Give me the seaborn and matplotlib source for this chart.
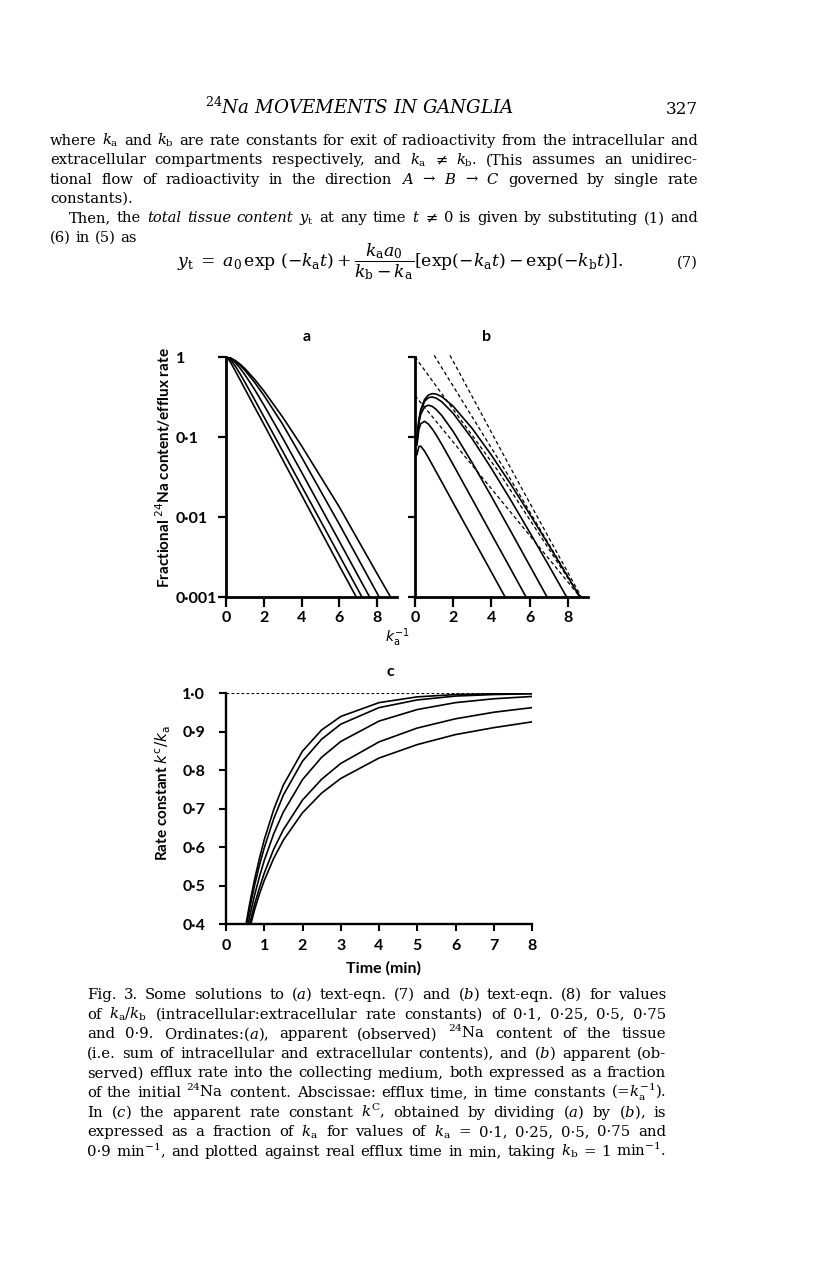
import matplotlib
matplotlib.use("Agg")
import matplotlib.pyplot as plt
import seaborn as sns
import pandas as pd
from matplotlib.ticker import NullLocator

# ---------------- data ----------------
ratios = ["0.1", "0.25", "0.5", "0.75", "0.9"]

# panel a : fractional 24Na content vs time constants
tau_a = [0, 0.1, 0.25, 0.5, 0.75, 1, 1.5, 2, 3, 4, 6, 8, 9]
content_01 = [1, 0.962, 0.85, 0.665, 0.515, 0.40, 0.24, 0.145, 0.052, 0.0188, 0.00245, 0.00033, 0.00012]
content_025 = [1, 0.983, 0.916, 0.764, 0.613, 0.484, 0.297, 0.180, 0.0664, 0.0244, 0.0033, 0.000447, 0.000165]
content_05 = [1, 0.991, 0.951, 0.845, 0.722, 0.600, 0.397, 0.252, 0.0971, 0.0363, 0.00495, 0.00067, 0.000247]
content_075 = [1, 0.994, 0.966, 0.886, 0.786, 0.681, 0.487, 0.333, 0.144, 0.056, 0.0081, 0.00111, 0.00041]
content_09 = [1, 0.995, 0.970, 0.901, 0.812, 0.716, 0.531, 0.378, 0.177, 0.0775, 0.0133, 0.00195, 0.00076]

# panel b : fractional efflux rate vs time constants
tau_b = [0.1, 0.2, 0.3, 0.5, 0.7, 0.9, 1.1, 1.4, 2, 3, 4, 5, 6, 7, 8, 9]
efflux_01 = [0.0597, 0.0759, 0.0768, 0.0666, 0.0551, 0.0452, 0.0370, 0.0274, 0.0150, 0.00553, 0.00204, 0.00075, 0.000275, 0.000101, 0.000037, 0.000014]
efflux_025 = [0.0782, 0.1231, 0.1465, 0.1571, 0.1453, 0.1264, 0.1069, 0.0810, 0.0450, 0.0166, 0.0061, 0.00225, 0.000826, 0.000304, 0.000112, 0.000041]
efflux_05 = [0.0861, 0.1484, 0.1920, 0.2386, 0.2500, 0.2413, 0.2221, 0.1858, 0.1170, 0.0473, 0.0180, 0.00669, 0.00247, 0.000912, 0.000335, 0.000123]
efflux_075 = [0.0889, 0.1584, 0.2115, 0.2793, 0.3102, 0.3162, 0.3066, 0.2760, 0.1974, 0.0945, 0.0404, 0.0164, 0.00643, 0.00247, 0.000936, 0.000352]
efflux_09 = [0.0900, 0.162, 0.2187, 0.2943, 0.3348, 0.3483, 0.3447, 0.3195, 0.2421, 0.1271, 0.0592, 0.0259, 0.01085, 0.00444, 0.00178, 0.000702]

# panel b : dashed reference lines (points along each line)
dash_b_x = [[0, 4.3, 8.64], [1.0, 4.7, 8.64], [1.83, 5.05, 8.7], [0, 8.64]]
dash_b_y = [[1.0, 0.039, 0.001], [1.05, 0.039, 0.001], [1.05, 0.039, 0.001], [0.33, 0.001]]

# panel c : k^c / k_a vs real time (min)
time_c = [0.5, 0.625, 0.75, 0.875, 1, 1.25, 1.5, 2, 2.5, 3, 4, 5, 6, 7, 8]
rate_01 = [0.387, 0.456, 0.517, 0.571, 0.619, 0.698, 0.761, 0.849, 0.904, 0.939, 0.975, 0.990, 0.996, 0.998, 0.999]
rate_025 = [0.378, 0.443, 0.502, 0.553, 0.598, 0.674, 0.735, 0.823, 0.880, 0.919, 0.962, 0.982, 0.992, 0.996, 0.998]
rate_05 = [0.362, 0.422, 0.476, 0.523, 0.565, 0.635, 0.691, 0.775, 0.833, 0.874, 0.927, 0.957, 0.975, 0.985, 0.991]
rate_075 = [0.348, 0.403, 0.452, 0.494, 0.532, 0.595, 0.645, 0.722, 0.776, 0.817, 0.873, 0.909, 0.933, 0.950, 0.962]
rate_09 = [0.339, 0.391, 0.438, 0.478, 0.513, 0.571, 0.618, 0.689, 0.740, 0.778, 0.831, 0.866, 0.892, 0.910, 0.925]

ticks_ab_x = [0, 2, 4, 6, 8]
ticks_ab_y = [1, 0.1, 0.01, 0.001]
labels_ab_y = ["1", "0·1", "0·01", "0·001"]
ticks_c_x = [0, 1, 2, 3, 4, 5, 6, 7, 8]
ticks_c_y = [0.4, 0.5, 0.6, 0.7, 0.8, 0.9, 1.0]
labels_c_y = ["0·4", "0·5", "0·6", "0·7", "0·8", "0·9", "1·0"]

header_text = "$^{24}$Na MOVEMENTS IN GANGLIA"
page_number = "327"
body_lines = [
    (r"where $k_{\mathrm{a}}$ and $k_{\mathrm{b}}$ are rate constants for exit of radioactivity from the intracellular and", True, 0),
    (r"extracellular compartments respectively, and $k_{\mathrm{a}}$ ≠ $k_{\mathrm{b}}$. (This assumes an unidirec-", True, 0),
    (r"tional flow of radioactivity in the direction $A$ → $B$ → $C$ governed by single rate", True, 0),
    (r"constants).", False, 0),
    (r"Then, the _total_ _tissue_ _content_ $y_{\mathrm{t}}$ at any time $t$ ≠ 0 is given by substituting (1) and", True, 19),
    (r"(6) in (5) as", False, 0),
]
equation = (r"$y_{\mathrm{t}}\;=\;a_0\,\exp\,(-k_{\mathrm{a}}t)+\dfrac{k_{\mathrm{a}}a_0}{k_{\mathrm{b}}-k_{\mathrm{a}}}"
            r"[\exp(-k_{\mathrm{a}}t)-\exp(-k_{\mathrm{b}}t)].$")
caption_lines = [
    r"Fig. 3. Some solutions to ($a$) text-eqn. (7) and ($b$) text-eqn. (8) for values",
    r"of $k_{\mathrm{a}}/k_{\mathrm{b}}$ (intracellular:extracellular rate constants) of 0·1, 0·25, 0·5, 0·75",
    r"and 0·9. Ordinates:($a$), apparent (observed) $^{24}$Na content of the tissue",
    r"(i.e. sum of intracellular and extracellular contents), and ($b$) apparent (ob-",
    r"served) efflux rate into the collecting medium, both expressed as a fraction",
    r"of the initial $^{24}$Na content. Abscissae: efflux time, in time constants (=$k_{\mathrm{a}}^{-1}$).",
    r"In ($c$) the apparent rate constant $k^{\mathrm{C}}$, obtained by dividing ($a$) by ($b$), is",
    r"expressed as a fraction of $k_{\mathrm{a}}$ for values of $k_{\mathrm{a}}$ = 0·1, 0·25, 0·5, 0·75 and",
    r"0·9 min$^{-1}$, and plotted against real efflux time in min, taking $k_{\mathrm{b}}$ = 1 min$^{-1}$.",
]

# ---------------- figure ----------------
sns.set_theme(style="ticks")
plt.rcParams["font.family"] = ["Lato", "DejaVu Sans"]
plt.rcParams["mathtext.fontset"] = "dejavusans"
plt.rcParams["text.color"] = "black"
plt.rcParams["xtick.color"] = "black"
plt.rcParams["ytick.color"] = "black"

W, H = 816, 1281
fig = plt.figure(figsize=(W / 100, H / 100), dpi=100)
fig.patch.set_facecolor("white")
renderer = fig.canvas.get_renderer()

def fx(px):
    return px / W

def fy(py):
    return 1 - py / H

LABEL_FONT = dict(family=["Lato", "DejaVu Sans"], fontweight="bold", color="black")
TICK_SIZE = 11.5

def style_axes(ax, spine_w):
    for s in ["top", "right"]:
        ax.spines[s].set_visible(False)
    for s in ["left", "bottom"]:
        ax.spines[s].set_linewidth(spine_w)
        ax.spines[s].set_color("black")
    ax.set_facecolor("white")
    ax.grid(False)

def long_df(xs, series):
    rows = []
    for name, ys in series:
        for x, y in zip(xs, ys):
            rows.append({"x": x, "y": y, "ratio": name})
    return pd.DataFrame(rows)

black5 = ["black"] * 5

# ---- panel a ----
axa = fig.add_axes([fx(226), fy(597), (397 - 226) / W, 240 / H])
dfa = long_df(tau_a, zip(ratios, [content_01, content_025, content_05, content_075, content_09]))
sns.lineplot(data=dfa, x="x", y="y", hue="ratio", palette=black5, legend=False,
             estimator=None, linewidth=1.2, ax=axa)
axa.set_yscale("log")
axa.set_xlim(0, 9.05)
axa.set_ylim(1e-3, 1)
style_axes(axa, 2.0)
axa.yaxis.set_minor_locator(NullLocator())
axa.set_xticks(ticks_ab_x, [str(t) for t in ticks_ab_x], fontsize=TICK_SIZE, fontweight="bold")
axa.set_yticks(ticks_ab_y, labels_ab_y, fontsize=TICK_SIZE, fontweight="bold", ha="left")
axa.tick_params(axis="x", direction="out", length=7, width=1.6, pad=3)
axa.tick_params(axis="y", direction="out", length=6, width=1.6, pad=30)
axa.set_xlabel("")
axa.set_ylabel("")

# ---- panel b ----
axb = fig.add_axes([fx(415), fy(597), (588 - 415) / W, 240 / H])
dfb = long_df(tau_b, zip(ratios, [efflux_01, efflux_025, efflux_05, efflux_075, efflux_09]))
sns.lineplot(data=dfb, x="x", y="y", hue="ratio", palette=black5, legend=False,
             estimator=None, linewidth=1.2, ax=axb)
for xs, ys in zip(dash_b_x, dash_b_y):
    axb.plot(xs, ys, color="black", linewidth=0.9, linestyle=(0, (3.0, 2.2)), clip_on=False)
axb.set_yscale("log")
axb.set_xlim(0, 9.05)
axb.set_ylim(1e-3, 1)
style_axes(axb, 2.0)
axb.yaxis.set_minor_locator(NullLocator())
axb.set_xticks(ticks_ab_x, [str(t) for t in ticks_ab_x], fontsize=TICK_SIZE, fontweight="bold")
axb.set_yticks(ticks_ab_y, ["" for _ in ticks_ab_y])
axb.tick_params(axis="x", direction="out", length=7, width=1.6, pad=3)
axb.tick_params(axis="y", direction="out", length=5, width=1.6)
axb.set_xlabel("")
axb.set_ylabel("")

# ---- panel c ----
axc = fig.add_axes([fx(226), fy(924), (532 - 226) / W, 231 / H])
dfc = long_df(time_c, zip(ratios, [rate_01, rate_025, rate_05, rate_075, rate_09]))
sns.lineplot(data=dfc, x="x", y="y", hue="ratio", palette=black5, legend=False,
             estimator=None, linewidth=1.2, ax=axc)
axc.axhline(1.0, color="black", linewidth=0.8, linestyle=(0, (2.5, 2.0)))
axc.set_xlim(0, 8)
axc.set_ylim(0.4, 1.0)
style_axes(axc, 1.7)
axc.set_xticks(ticks_c_x, [str(t) for t in ticks_c_x], fontsize=TICK_SIZE, fontweight="bold")
axc.set_yticks(ticks_c_y, labels_c_y, fontsize=TICK_SIZE, fontweight="bold")
axc.tick_params(axis="x", direction="out", length=5, width=1.5, pad=6)
axc.tick_params(axis="y", direction="out", length=5, width=1.5, pad=10)
axc.set_xlabel("")
axc.set_ylabel("")

# ---- axis labels / panel letters ----
fig.text(fx(163), fy(468), "Fractional $^{24}$Na content/efflux rate", rotation=90,
         ha="center", va="center", fontsize=11, **LABEL_FONT)
fig.text(fx(397), fy(638), r"$k_{\mathrm{a}}^{-1}$", ha="center", va="center", fontsize=10,
         **LABEL_FONT)
fig.text(fx(163), fy(793), r"Rate constant $k^{\mathrm{c}}/k_{\mathrm{a}}$", rotation=90,
         ha="center", va="center", fontsize=11, **LABEL_FONT)
fig.text(fx(383), fy(968), "Time (min)", ha="center", va="center", fontsize=11.5, **LABEL_FONT)
for letter, (px, py) in zip(["a", "b", "c"], [(307, 337), (487, 337), (390, 672)]):
    fig.text(fx(px), fy(py), letter, ha="center", va="center", fontsize=11.5, **LABEL_FONT)

# ---------------- page text ----------------
SERIF = "DejaVu Serif"

def make_words(line, size):
    texts = []
    for w in line.split(" "):
        st = "normal"
        if len(w) > 2 and w.startswith("_") and w.endswith("_"):
            st = "italic"
            w = w[1:-1]
        t = fig.text(0, 0, w, fontsize=size, family=SERIF, style=st, color="black",
                     ha="left", va="baseline", math_fontfamily="dejavuserif")
        texts.append(t)
    widths = [t.get_window_extent(renderer).width for t in texts]
    return texts, widths

def space_px(size):
    return size * 0.318 * 100 / 72

def fit_size(lines, avail, base=9.0):
    best = 100.0
    for line, ind in lines:
        texts, widths = make_words(line, base)
        nat = sum(widths) + (len(texts) - 1) * space_px(base)
        best = min(best, (avail - ind) / nat)
        for t in texts:
            t.remove()
    return base * best * 0.985

def place_line(line, x0, x1, y, size, justify=True, indent=0):
    texts, widths = make_words(line, size)
    x = x0 + indent
    if justify and len(texts) > 1:
        gap = (x1 - x - sum(widths)) / (len(texts) - 1)
    else:
        gap = space_px(size)
    for t, w in zip(texts, widths):
        t.set_position((fx(x), fy(y)))
        x += w + gap

BODY_X0, BODY_X1 = 50, 698
CAP_X0, CAP_X1 = 87, 666
body_size = fit_size([(l, ind) for l, j, ind in body_lines if j], BODY_X1 - BODY_X0)
cap_size = fit_size([(l, 0) for l in caption_lines], CAP_X1 - CAP_X0)

fig.text(fx(360), fy(114), header_text, fontsize=body_size + 2.5, family=SERIF, style="italic",
         ha="center", va="baseline", math_fontfamily="dejavuserif", color="black")
fig.text(fx(698), fy(114), page_number, fontsize=body_size + 1.5, family=SERIF,
         ha="right", va="baseline", color="black")

body_y0, body_dy = 145, 19.3
for i, (line, just, ind) in enumerate(body_lines):
    place_line(line, BODY_X0, BODY_X1, body_y0 + i * body_dy, body_size, justify=just, indent=ind)

fig.text(fx(400), fy(267), equation, fontsize=body_size * 1.17, family=SERIF,
         ha="center", va="baseline", math_fontfamily="dejavuserif", color="black")
fig.text(fx(698), fy(267), "(7)", fontsize=body_size, family=SERIF, ha="right", va="baseline",
         color="black")

cap_y0, cap_dy = 999, 19.6
for i, line in enumerate(caption_lines):
    place_line(line, CAP_X0, CAP_X1, cap_y0 + i * cap_dy, cap_size, justify=True)

fig.savefig("out.png", dpi=100, facecolor="white")
